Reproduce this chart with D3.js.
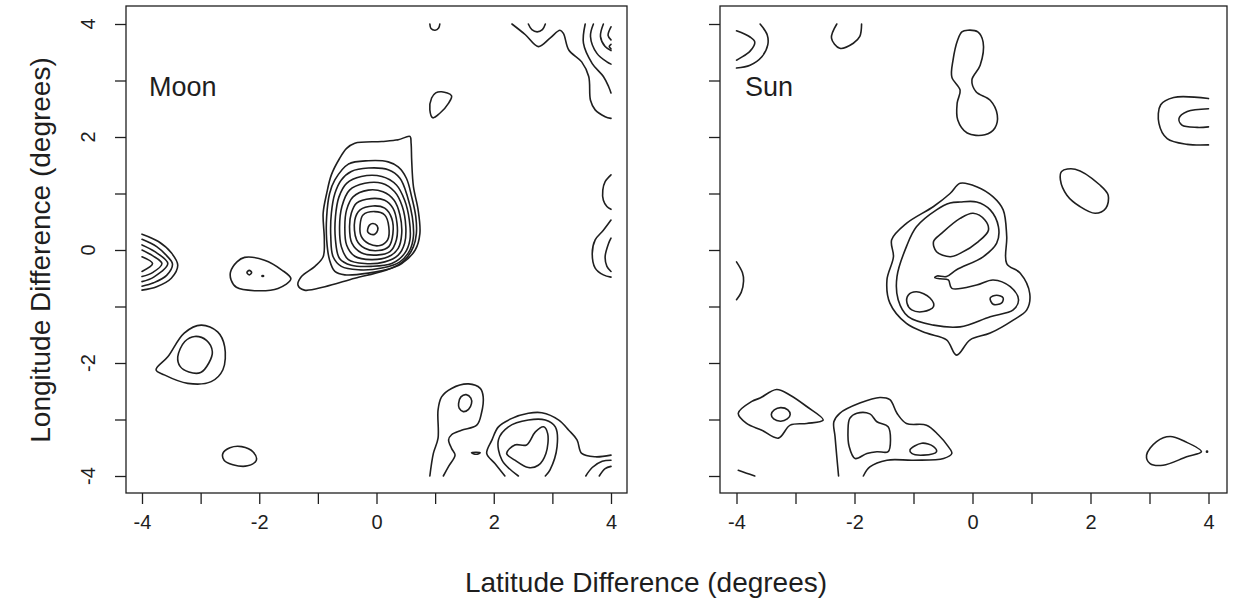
<!DOCTYPE html>
<html>
<head>
<meta charset="utf-8">
<script src="https://cdn.jsdelivr.net/npm/d3@7"></script>
<style>
  html, body { margin: 0; padding: 0; background: #ffffff; }
  svg { display: block; }
  text { font-family: "Liberation Sans", Arial, Helvetica, sans-serif; fill: #1e1e1e; }
</style>
</head>
<body>
<svg id="chart" width="1243" height="603"></svg>
<script>
// ---- axes ----
const degreeTicks = [-4, -3, -2, -1, 0, 1, 2, 3, 4];
const degreeLabels = [-4, -2, 0, 2, 4];
const panelTitles = ["Moon", "Sun"];
const xTitle = "Latitude Difference (degrees)";
const yTitle = "Longitude Difference (degrees)";

// ---- Moon: contour lines as [latitude diff, longitude diff] ----
// main peak near the origin, outermost level first
const moonPeakRings = [
  [[0.57,2.01],[0.37,1.95],[0.09,1.92],[-0.37,1.89],[-0.51,1.80],[-0.63,1.62],[-0.77,1.33],[-0.85,1.00],[-0.91,0.65],[-0.89,0.18],[-0.91,-0.12],[-1.05,-0.29],[-1.28,-0.47],[-1.34,-0.62],[-1.23,-0.71],[-0.88,-0.65],[-0.37,-0.50],[0.09,-0.38],[0.43,-0.24],[0.66,0.0],[0.74,0.29],[0.71,0.71],[0.63,1.12],[0.60,1.59],[0.59,1.89]],
  [[-0.71,1.24],[-0.48,1.52],[-0.14,1.58],[0.20,1.56],[0.37,1.47],[0.51,1.27],[0.60,0.94],[0.67,0.59],[0.68,0.29],[0.63,0.06],[0.48,-0.18],[0.26,-0.32],[-0.14,-0.41],[-0.54,-0.44],[-0.71,-0.38],[-0.80,-0.18],[-0.85,0.18],[-0.85,0.59],[-0.80,1.00]],
  [[-0.71,1.00],[-0.60,1.24],[-0.43,1.39],[-0.14,1.45],[0.20,1.42],[0.40,1.27],[0.53,0.94],[0.61,0.59],[0.63,0.24],[0.57,0.0],[0.40,-0.21],[0.09,-0.32],[-0.31,-0.35],[-0.60,-0.29],[-0.74,-0.12],[-0.78,0.24],[-0.77,0.65]],
  [[-0.64,0.94],[-0.51,1.18],[-0.26,1.30],[0.09,1.30],[0.34,1.15],[0.48,0.88],[0.56,0.53],[0.57,0.18],[0.48,-0.06],[0.26,-0.24],[-0.09,-0.29],[-0.43,-0.27],[-0.63,-0.15],[-0.70,0.18],[-0.70,0.59]],
  [[-0.59,0.77],[-0.46,1.06],[-0.20,1.18],[0.09,1.18],[0.31,1.03],[0.44,0.77],[0.50,0.41],[0.48,0.12],[0.37,-0.09],[0.14,-0.21],[-0.20,-0.24],[-0.48,-0.17],[-0.60,0.06],[-0.63,0.41]],
  [[-0.51,0.71],[-0.40,0.94],[-0.14,1.06],[0.11,1.03],[0.30,0.88],[0.40,0.62],[0.43,0.29],[0.37,0.03],[0.20,-0.12],[-0.09,-0.17],[-0.37,-0.11],[-0.51,0.09],[-0.54,0.41]],
  [[-0.43,0.65],[-0.34,0.83],[-0.09,0.91],[0.14,0.88],[0.28,0.74],[0.35,0.47],[0.34,0.18],[0.23,-0.03],[0.0,-0.09],[-0.26,-0.05],[-0.42,0.12],[-0.46,0.41]],
  [[-0.37,0.53],[-0.28,0.71],[-0.06,0.78],[0.14,0.74],[0.26,0.56],[0.28,0.29],[0.21,0.06],[0.03,-0.01],[-0.20,0.03],[-0.34,0.18]],
  [[-0.28,0.44],[-0.23,0.62],[-0.03,0.68],[0.14,0.62],[0.21,0.41],[0.19,0.18],[0.06,0.08],[-0.13,0.11],[-0.26,0.24]],
  [[-0.15,0.37],[-0.12,0.44],[-0.06,0.47],[0.01,0.43],[0.02,0.35],[-0.03,0.28],[-0.10,0.28],[-0.15,0.32]]
];
// nested arcs cut by the western edge
const moonWestArcs = [
  [[-4,0.28],[-3.72,0.15],[-3.5,-0.05],[-3.39,-0.27],[-3.5,-0.5],[-3.75,-0.65],[-4,-0.71]],
  [[-4,0.19],[-3.75,0.06],[-3.58,-0.1],[-3.48,-0.25],[-3.58,-0.45],[-3.8,-0.58],[-4,-0.64]],
  [[-4,0.09],[-3.78,-0.03],[-3.56,-0.24],[-3.8,-0.48],[-4,-0.56]],
  [[-4,0.0],[-3.82,-0.1],[-3.66,-0.24],[-3.82,-0.4],[-4,-0.47]],
  [[-4,-0.12],[-3.82,-0.24],[-4,-0.38]]
];
const moonWestBlobs = [
  [[-2.49,-0.39],[-2.38,-0.21],[-2.25,-0.13],[-1.91,-0.18],[-1.62,-0.35],[-1.46,-0.51],[-1.68,-0.68],[-2.08,-0.72],[-2.39,-0.66],[-2.48,-0.53]],
  [[-2.21,-0.40],[-2.17,-0.36],[-2.13,-0.40],[-2.17,-0.44]],
  [[-1.955,-0.46],[-1.94,-0.45],[-1.925,-0.46],[-1.94,-0.47]],
  [[-3.76,-2.12],[-3.56,-1.89],[-3.28,-1.47],[-2.99,-1.33],[-2.71,-1.45],[-2.59,-1.71],[-2.62,-2.12],[-2.82,-2.33],[-3.22,-2.36],[-3.62,-2.21]],
  [[-3.39,-1.89],[-3.27,-1.62],[-3.1,-1.53],[-2.90,-1.6],[-2.80,-1.8],[-2.86,-2.0],[-3.0,-2.17],[-3.2,-2.16],[-3.35,-2.06]],
  [[-2.62,-3.6],[-2.5,-3.5],[-2.3,-3.48],[-2.1,-3.58],[-2.05,-3.72],[-2.2,-3.82],[-2.45,-3.8],[-2.6,-3.72]]
];
const moonEastBlobs = [
  [[1.11,2.80],[1.28,2.73],[1.23,2.60],[1.08,2.42],[0.96,2.34],[0.91,2.48],[0.94,2.69],[1.01,2.78]],
  [[1.40,-2.72],[1.44,-2.60],[1.53,-2.56],[1.61,-2.62],[1.62,-2.72],[1.57,-2.82],[1.48,-2.86],[1.41,-2.80]],
  [[1.62,-3.59],[1.70,-3.58],[1.77,-3.59],[1.70,-3.615]],
  [[2.22,-3.60],[2.36,-3.45],[2.56,-3.45],[2.71,-3.22],[2.85,-3.13],[2.92,-3.25],[2.89,-3.60],[2.76,-3.81],[2.59,-3.85],[2.36,-3.72]]
];
// levels that run off the grid edges
const moonEdgeLines = [
  [[0.91,4.0],[0.93,3.92],[1.0,3.89],[1.06,3.93],[1.08,4.0]],
  [[2.31,4.0],[2.54,3.81],[2.76,3.60],[2.96,3.75],[3.13,3.89],[3.19,3.83],[3.28,3.54],[3.50,3.33],[3.62,3.07],[3.65,2.65],[3.73,2.48],[3.90,2.36],[4.0,2.33]],
  [[2.59,4.0],[2.65,3.9],[2.74,3.86],[2.83,3.9],[2.88,4.0]],
  [[3.56,4.0],[3.53,3.66],[3.68,3.30],[3.87,3.07],[3.96,2.89],[4.0,2.78]],
  [[3.70,4.0],[3.65,3.78],[3.76,3.48],[3.93,3.33],[4.0,3.29]],
  [[3.87,4.0],[3.82,3.78],[3.9,3.6],[4.0,3.53]],
  [[4.0,3.95],[3.95,3.8],[4.0,3.72]],
  [[4.0,3.64],[3.97,3.6],[4.0,3.56]],
  [[4.0,1.33],[3.9,1.21],[3.86,1.06],[3.87,0.88],[3.93,0.77],[4.0,0.72]],
  [[4.0,0.53],[3.87,0.35],[3.73,0.18],[3.68,-0.06],[3.73,-0.32],[3.87,-0.44],[4.0,-0.48]],
  [[4.0,0.21],[3.96,0.12],[3.90,-0.12],[3.93,-0.29],[4.0,-0.38]],
  [[0.91,-4.0],[0.97,-3.60],[1.05,-3.33],[1.05,-2.83],[1.11,-2.60],[1.28,-2.45],[1.57,-2.37],[1.77,-2.45],[1.82,-2.60],[1.79,-2.89],[1.71,-3.10],[1.45,-3.19],[1.28,-3.27],[1.23,-3.36],[1.28,-3.51],[1.34,-3.63],[1.23,-3.83],[1.14,-4.0]],
  [[2.19,-4.0],[2.02,-3.78],[1.88,-3.60],[1.97,-3.36],[2.08,-3.13],[2.31,-2.98],[2.59,-2.89],[2.82,-2.88],[3.11,-3.01],[3.28,-3.19],[3.42,-3.36],[3.50,-3.60],[3.73,-3.66],[4.0,-3.63]],
  [[2.42,-4.0],[2.14,-3.72],[2.08,-3.36],[2.25,-3.13],[2.59,-3.01],[2.88,-3.01],[3.05,-3.13],[3.08,-3.48],[2.96,-3.89],[2.88,-4.0]],
  [[3.57,-4.0],[3.68,-3.85],[3.85,-3.74],[4.0,-3.72]],
  [[3.8,-4.0],[3.9,-3.87],[4.0,-3.83]]
];

// ---- Sun: contour lines as [latitude diff, longitude diff] ----
const sunCentreRings = [
  [[-0.21,1.18],[0.07,1.12],[0.35,0.94],[0.52,0.71],[0.58,0.24],[0.58,-0.24],[0.81,-0.41],[0.97,-0.77],[0.92,-1.06],[0.69,-1.24],[0.30,-1.47],[-0.04,-1.59],[-0.27,-1.86],[-0.44,-1.59],[-0.78,-1.47],[-1.12,-1.30],[-1.40,-0.94],[-1.45,-0.53],[-1.34,-0.12],[-1.37,0.18],[-1.12,0.47],[-0.66,0.77],[-0.38,1.0]],
  [[-0.21,0.85],[0.07,0.85],[0.30,0.71],[0.44,0.41],[0.41,0.12],[0.18,-0.12],[-0.27,-0.35],[-0.44,-0.47],[-0.60,-0.46],[-0.64,-0.49],[-0.55,-0.51],[-0.41,-0.53],[-0.35,-0.68],[0.07,-0.62],[0.35,-0.53],[0.64,-0.65],[0.78,-0.88],[0.69,-1.06],[0.30,-1.18],[-0.21,-1.36],[-0.66,-1.33],[-1.09,-1.18],[-1.26,-0.88],[-1.28,-0.47],[-1.12,0.06],[-0.95,0.41],[-0.61,0.71],[-0.38,0.83]],
  [[-0.66,0.15],[-0.52,0.30],[-0.21,0.56],[0.01,0.65],[0.21,0.53],[0.27,0.35],[0.10,0.15],[-0.21,-0.06],[-0.38,-0.12],[-0.61,-0.03]],
  [[-1.09,-0.80],[-0.95,-0.74],[-0.72,-0.85],[-0.66,-1.0],[-0.83,-1.09],[-1.03,-1.06],[-1.11,-0.94]],
  [[0.30,-0.85],[0.41,-0.80],[0.52,-0.85],[0.49,-0.94],[0.35,-0.96]]
];
const sunBlobs = [
  [[-0.08,3.89],[0.09,3.86],[0.18,3.68],[0.13,3.27],[-0.01,3.01],[0.06,2.80],[0.30,2.65],[0.42,2.39],[0.38,2.16],[0.21,2.04],[-0.09,2.07],[-0.25,2.30],[-0.26,2.60],[-0.21,2.83],[-0.35,3.06],[-0.33,3.36],[-0.25,3.72],[-0.18,3.86]],
  [[1.51,1.39],[1.74,1.43],[2.16,1.15],[2.30,0.97],[2.26,0.74],[2.08,0.65],[1.82,0.77],[1.60,0.97],[1.49,1.24]],
  [[-3.97,-2.89],[-3.74,-2.68],[-3.60,-2.62],[-3.32,-2.47],[-3.09,-2.57],[-2.81,-2.77],[-2.53,-3.01],[-2.81,-3.07],[-3.09,-3.10],[-3.29,-3.33],[-3.57,-3.19],[-3.83,-3.07]],
  [[-3.41,-2.91],[-3.36,-2.83],[-3.25,-2.79],[-3.13,-2.83],[-3.09,-2.91],[-3.14,-2.99],[-3.25,-3.03],[-3.37,-2.99]],
  [[-2.08,-2.98],[-1.96,-2.89],[-1.74,-2.90],[-1.62,-3.04],[-1.43,-3.13],[-1.39,-3.36],[-1.43,-3.57],[-1.62,-3.57],[-1.79,-3.60],[-1.99,-3.69],[-2.09,-3.48],[-2.11,-3.19]],
  [[-1.06,-3.54],[-0.86,-3.42],[-0.66,-3.48],[-0.61,-3.57],[-0.83,-3.63],[-1.03,-3.60]],
  [[2.95,-3.63],[3.12,-3.39],[3.35,-3.30],[3.60,-3.39],[3.88,-3.57],[3.63,-3.66],[3.23,-3.81],[3.01,-3.78]],
  [[3.965,-3.57],[3.975,-3.56],[3.985,-3.57],[3.975,-3.58]]
];
const sunEdgeLines = [
  [[-3.60,4.0],[-3.48,3.81],[-3.47,3.63],[-3.57,3.42],[-3.77,3.27],[-4.0,3.22]],
  [[-4.0,3.88],[-3.77,3.77],[-3.69,3.68],[-3.77,3.52],[-4.0,3.36]],
  [[-2.30,4.0],[-2.39,3.75],[-2.25,3.57],[-2.02,3.66],[-1.91,3.78],[-1.88,4.0]],
  [[4.0,2.68],[3.41,2.70],[3.19,2.57],[3.16,2.24],[3.30,1.97],[3.64,1.87],[4.0,1.86]],
  [[4.0,2.50],[3.64,2.45],[3.50,2.33],[3.55,2.21],[3.81,2.17],[4.0,2.18]],
  [[-4,-0.21],[-3.9,-0.4],[-3.88,-0.55],[-3.92,-0.75],[-4,-0.88]],
  [[-3.97,-3.90],[-3.83,-3.95],[-3.69,-4.0]],
  [[-2.27,-4.0],[-2.30,-3.66],[-2.33,-3.30],[-2.35,-3.04],[-2.25,-2.89],[-1.91,-2.71],[-1.57,-2.61],[-1.40,-2.65],[-1.28,-2.89],[-1.12,-3.07],[-0.78,-3.10],[-0.58,-3.27],[-0.41,-3.48],[-0.35,-3.60],[-0.49,-3.69],[-1.0,-3.72],[-1.45,-3.72],[-1.74,-3.84],[-1.85,-4.0]]
];

const moonClosed = moonPeakRings.concat(moonWestBlobs, moonEastBlobs);
const sunClosed = sunCentreRings.concat(sunBlobs);

// ---- layout ----
const boxTop = 6, boxBottom = 493;
const y = d3.scaleLinear().domain([-4, 4]).range([476, 24]);
const panels = [
  { title: panelTitles[0], closed: moonClosed, open: moonWestArcs.concat(moonEdgeLines),
    left: 126, right: 627, xRange: [142, 611], titleX: 149, labelsOnY: true },
  { title: panelTitles[1], closed: sunClosed, open: sunEdgeLines,
    left: 720, right: 1227, xRange: [736.5, 1208.5], titleX: 745, labelsOnY: false }
];

const svg = d3.select("#chart");
const ink = "#1f1f1f";

panels.forEach((p, i) => {
  const x = d3.scaleLinear().domain([-4, 4]).range(p.xRange);
  const g = svg.append("g");

  const clipId = "clip" + i;
  svg.append("clipPath").attr("id", clipId)
    .append("rect").attr("x", p.left).attr("y", boxTop)
    .attr("width", p.right - p.left).attr("height", boxBottom - boxTop);

  const lines = g.append("g").attr("clip-path", `url(#${clipId})`)
    .attr("fill", "none").attr("stroke", ink).attr("stroke-width", 1.6)
    .attr("stroke-linejoin", "round").attr("stroke-linecap", "round");

  const closedLine = d3.line().x(d => x(d[0])).y(d => y(d[1]))
    .curve(d3.curveCatmullRomClosed.alpha(0.5));
  const openLine = d3.line().x(d => x(d[0])).y(d => y(d[1]))
    .curve(d3.curveCatmullRom.alpha(0.5));

  lines.selectAll("path.closed").data(p.closed).join("path")
    .attr("class", "closed").attr("d", closedLine);
  lines.selectAll("path.open").data(p.open).join("path")
    .attr("class", "open").attr("d", openLine);

  // frame
  g.append("rect").attr("x", p.left).attr("y", boxTop)
    .attr("width", p.right - p.left).attr("height", boxBottom - boxTop)
    .attr("fill", "none").attr("stroke", ink).attr("stroke-width", 1.3);

  // bottom axis
  const xAxis = d3.axisBottom(x).tickValues(degreeTicks).tickSize(11).tickPadding(11)
    .tickFormat(d => degreeLabels.includes(d) ? String(d) : "");
  const gx = g.append("g").attr("transform", `translate(0,${boxBottom})`).call(xAxis);
  gx.select(".domain").remove();
  gx.selectAll(".tick line").attr("stroke", ink).attr("stroke-width", 1.3);
  gx.selectAll(".tick text").attr("font-size", 20).attr("fill", ink)
    .attr("font-family", "'Liberation Sans', Arial, sans-serif");

  // left axis
  const yAxis = d3.axisLeft(y).tickValues(degreeTicks).tickSize(11).tickFormat("");
  const gy = g.append("g").attr("transform", `translate(${p.left},0)`).call(yAxis);
  gy.select(".domain").remove();
  gy.selectAll(".tick line").attr("stroke", ink).attr("stroke-width", 1.3);
  if (p.labelsOnY) {
    g.selectAll("text.ylab").data(degreeLabels).join("text")
      .attr("class", "ylab")
      .attr("transform", d => `translate(88,${y(d)}) rotate(-90)`)
      .attr("text-anchor", "middle").attr("dy", "0.36em")
      .attr("font-size", 20).text(d => String(d));
  }

  // panel label
  g.append("text").attr("x", p.titleX).attr("y", 96)
    .attr("font-size", 27).text(p.title);
});

// axis titles
svg.append("text").attr("x", 646).attr("y", 592)
  .attr("text-anchor", "middle").attr("font-size", 28).text(xTitle);
svg.append("text").attr("transform", "translate(40,250) rotate(-90)")
  .attr("text-anchor", "middle").attr("dy", "0.36em")
  .attr("font-size", 28).text(yTitle);
</script>
</body>
</html>
